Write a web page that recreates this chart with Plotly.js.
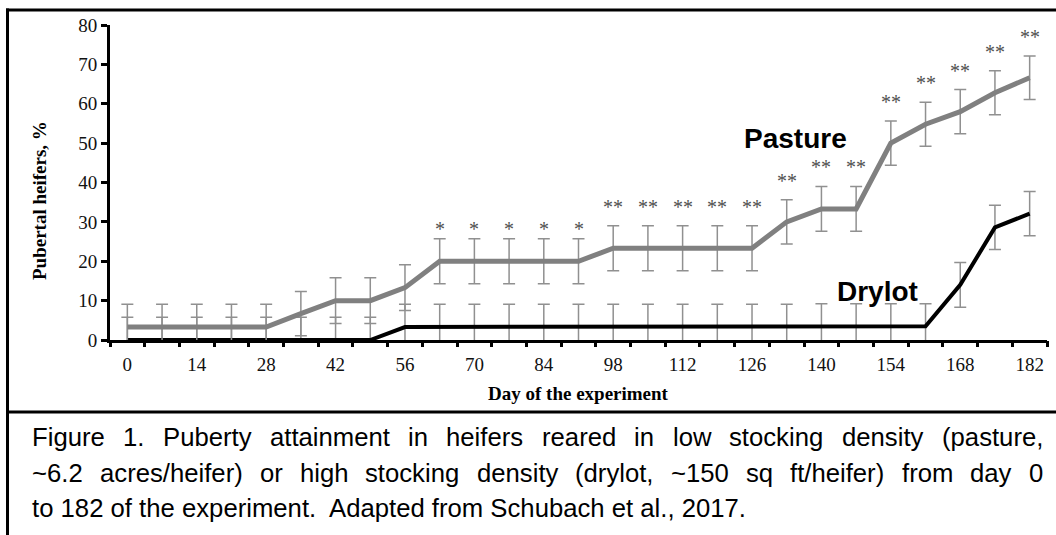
<!DOCTYPE html>
<html>
<head>
<meta charset="utf-8">
<script src="https://cdn.plot.ly/plotly-3.0.1.min.js"></script>
<style>
html,body{margin:0;padding:0;background:#ffffff;}
#chart{width:1056px;height:535px;}
</style>
</head>
<body>
<div id="chart"></div>
<script>
// ---- data ----
const days = [0,7,14,21,28,35,42,49,56,63,70,77,84,91,98,105,112,119,126,133,140,147,154,161,168,175,182];
const pasture = [3.3,3.3,3.3,3.3,3.3,6.7,10,10,13.3,20,20,20,20,20,23.3,23.3,23.3,23.3,23.3,30,33.3,33.3,50,54.8,58,62.8,66.6];
const pastureSE = [5.8,5.8,5.8,5.8,5.8,5.6,5.8,5.8,5.8,5.7,5.7,5.7,5.7,5.7,5.7,5.7,5.7,5.7,5.7,5.6,5.7,5.7,5.6,5.6,5.6,5.6,5.5];
const drylot = [0,0,0,0,0,0,0,0,3.3,3.3,3.3,3.3,3.3,3.3,3.3,3.3,3.3,3.3,3.3,3.4,3.5,3.5,3.5,3.5,14,28.6,32.1];
const drylotSE = [5.8,5.8,5.8,5.8,5.8,5.8,5.8,5.8,5.8,5.8,5.8,5.8,5.8,5.8,5.8,5.8,5.8,5.8,5.8,5.7,5.7,5.7,5.7,5.7,5.7,5.6,5.6];
const significance = ['','','','','','','','','','*','*','*','*','*','**','**','**','**','**','**','**','**','**','**','**','**','**'];
const xTickLabels = ['0','14','28','42','56','70','84','98','112','126','140','154','168','182'];
const yTicks = [0,10,20,30,40,50,60,70,80];
const seriesLabels = ['Pasture','Drylot'];
const xTitle = 'Day of the experiment';
const yTitle = 'Pubertal heifers, %';
const captionLines = [
  'Figure 1. Puberty attainment in heifers reared in low stocking density (pasture,',
  '~6.2 acres/heifer) or high stocking density (drylot, ~150 sq ft/heifer) from day 0',
  'to 182 of the experiment.\u00a0 Adapted from Schubach et al., 2017.'
];

// ---- geometry ----
const W = 1056, H = 535;
const M = {l:110, r:9, t:25, b:195};
const plotW = W - M.l - M.r, plotH = H - M.t - M.b;
const px2x = p => (p - M.l) / plotW;
const py2y = p => (H - M.b - p) / plotH;
const step = days[1] - days[0];
const xRange = [days[0] - step/2, days[days.length-1] + step/2];

const serif = '"Liberation Serif", "Times New Roman", serif';
const sans = '"Liberation Sans", Arial, sans-serif';
const errGray = '#909090';

// tick marks sit between categories (Excel category axis)
const betweenTicks = [];
for (let i = 0; i <= days.length; i++) betweenTicks.push(days[0] - step/2 + i*step);

const traces = [
  {x: days, y: drylot, type:'scatter', mode:'lines', name: seriesLabels[1],
   line:{color:'#000000', width:4},
   error_y:{type:'data', array: drylotSE, visible:true, color: errGray, thickness:1.5, width:6}},
  {x: days, y: pasture, type:'scatter', mode:'lines', name: seriesLabels[0],
   line:{color:'#808080', width:5},
   error_y:{type:'data', array: pastureSE, visible:true, color: errGray, thickness:1.5, width:6}},
  {x: [xRange[0]], y:[0], xaxis:'x2', type:'scatter', mode:'markers', marker:{opacity:0}, hoverinfo:'skip'}
];

const annotations = [
  {text:'<b>'+seriesLabels[0]+'</b>', x:134.7, y:51.3, xref:'x', yref:'y', showarrow:false,
   xanchor:'center', yanchor:'middle', font:{family:sans, size:28, color:'#000'}},
  {text:'<b>'+seriesLabels[1]+'</b>', x:151.4, y:12.4, xref:'x', yref:'y', showarrow:false,
   xanchor:'center', yanchor:'middle', font:{family:sans, size:28, color:'#000'}},
  {text:'<b>'+xTitle+'</b>', x:0.5, y:py2y(393), xref:'paper', yref:'paper', showarrow:false,
   xanchor:'center', yanchor:'middle', font:{family:serif, size:19, color:'#000'}},
  {text:'<b>'+yTitle+'</b>', x:px2x(39), y:py2y(201), xref:'paper', yref:'paper', showarrow:false,
   textangle:-90, xanchor:'center', yanchor:'middle', font:{family:serif, size:19, color:'#000'}}
];

// significance marks above the pasture error bars
significance.forEach((s, i) => {
  if (!s) return;
  annotations.push({text:s, x:days[i], y:pasture[i] + pastureSE[i], xref:'x', yref:'y', showarrow:false,
    xanchor:'center', yanchor:'middle', yshift: s.length > 1 ? 19 : 10,
    font:{family:serif, size:20, color:'#505050'}});
});

// caption: first two lines justified between left and right edges, last line natural
const capFont = 25.7, capLeft = 31, capRight = 1042, capMid = [437, 473, 508];
const cv = document.createElement('canvas').getContext('2d');
cv.font = capFont + 'px "Liberation Sans"';
captionLines.forEach((line, li) => {
  const yy = py2y(capMid[li]);
  if (li < captionLines.length - 1) {
    const words = line.split(' ');
    const widths = words.map(w => cv.measureText(w).width);
    const total = widths.reduce((a,b)=>a+b,0);
    const gap = (capRight - capLeft - total) / (words.length - 1);
    let cx = capLeft;
    words.forEach((w, wi) => {
      annotations.push({text:w, x:px2x(cx), y:yy, xref:'paper', yref:'paper', showarrow:false,
        xanchor:'left', yanchor:'middle', borderpad:0, font:{family:sans, size:capFont, color:'#000'}});
      cx += widths[wi] + gap;
    });
  } else {
    annotations.push({text:line, x:px2x(capLeft), y:yy, xref:'paper', yref:'paper', showarrow:false,
      xanchor:'left', yanchor:'middle', borderpad:0, font:{family:sans, size:capFont, color:'#000'}});
  }
});

const shapes = [
  {type:'line', xref:'paper', yref:'paper', x0:px2x(7.5), x1:px2x(7.5), y0:py2y(8.5), y1:py2y(540), line:{color:'#000', width:3}},
  {type:'line', xref:'paper', yref:'paper', x0:px2x(6), x1:px2x(1060), y0:py2y(10), y1:py2y(10), line:{color:'#000', width:3}},
  {type:'line', xref:'paper', yref:'paper', x0:px2x(6), x1:px2x(1060), y0:py2y(412), y1:py2y(412), line:{color:'#000', width:3}}
];

const layout = {
  width: W, height: H, margin: M,
  paper_bgcolor:'#ffffff', plot_bgcolor:'#ffffff',
  showlegend:false,
  xaxis:{range:xRange, tickmode:'array', tickvals: xTickLabels.map(Number), ticktext: xTickLabels,
    showline:true, linecolor:'#000', linewidth:3, ticks:'outside', ticklen:5, tickcolor:'rgba(0,0,0,0)',
    tickfont:{family:serif, size:19, color:'#111'}, showgrid:false, zeroline:false, fixedrange:true},
  xaxis2:{range:xRange, overlaying:'x', anchor:'y', side:'bottom', tickmode:'array', tickvals: betweenTicks,
    ticks:'outside', ticklen:6, tickwidth:3, tickcolor:'#000', showticklabels:false,
    showline:false, showgrid:false, zeroline:false, fixedrange:true},
  yaxis:{range:[0,80], tickmode:'array', tickvals:yTicks, showline:true, linecolor:'#000', linewidth:3,
    ticks:'outside', ticklen:6, tickwidth:3, tickcolor:'#000',
    tickfont:{family:serif, size:19, color:'#111'}, showgrid:false, zeroline:false, fixedrange:true},
  annotations: annotations,
  shapes: shapes
};

Plotly.newPlot('chart', traces, layout, {displayModeBar:false, staticPlot:true});
</script>
</body>
</html>
